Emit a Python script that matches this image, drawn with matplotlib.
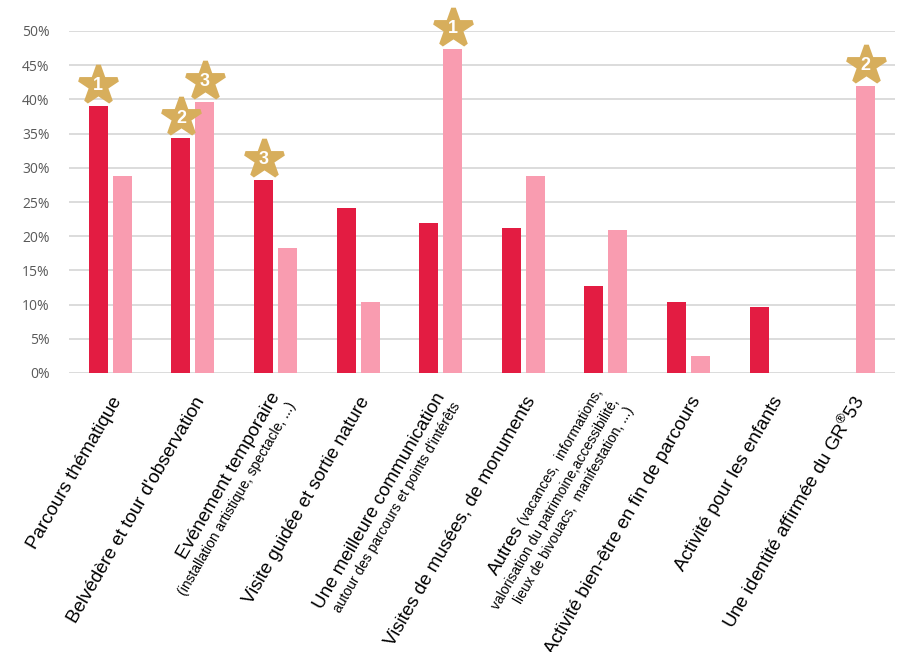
import math
import numpy as np
import matplotlib
matplotlib.use("Agg")
import matplotlib.pyplot as plt
from matplotlib.transforms import offset_copy

plt.rcParams['font.family'] = ['Liberation Sans', 'DejaVu Sans']
plt.rcParams['mathtext.fontset'] = 'custom'
plt.rcParams['mathtext.rm'] = 'Liberation Sans'
plt.rcParams['mathtext.it'] = 'Liberation Sans'
plt.rcParams['mathtext.bf'] = 'Liberation Sans:bold'

# ---- data ----
labels_main = ["Parcours thématique",
               "Belvédère et tour d'observation",
               "Evénement temporaire",
               "Visite guidée et sortie nature",
               "Une meilleure communication",
               "Visites de musées, de monuments",
               "Autres",
               "Activité bien-être en fin de parcours",
               "Activité pour les enfants",
               "Une identité affirmée du GR$^{®}$53"]
labels_first_small = ["", "", "", "", "", "", " (vacances,  informations,", "", "", ""]
labels_sub = ["", "",
              "(installation artistique, spectacle, ...)",
              "",
              "autour des parcours et points d'intérêts",
              "",
              "valorisation du patrimoine,accessibilité,\nlieux de bivouacs,  manifestation, ...)",
              "", "", ""]
serie_a = [39.0, 34.3, 28.2, 24.1, 22.0, 21.2, 12.7, 10.4, 9.7, 0.0]
serie_b = [28.8, 39.6, 18.3, 10.4, 47.4, 28.8, 20.9, 2.5, 0.0, 42.0]
star_a = [1, 2, 3, 0, 0, 0, 0, 0, 0, 0]
star_b = [0, 3, 0, 0, 1, 0, 0, 0, 0, 2]
yticks = list(range(0, 55, 5))

c_a = '#E31C42'
c_b = '#F99CB0'
c_star = '#D7AE5C'

W, H = 908, 652
fig = plt.figure(figsize=(W/100, H/100), dpi=100, facecolor='white')
ax = fig.add_axes((69/W, 1-373/H, (895-69)/W, (373-31)/H))

x = np.arange(len(labels_main))
bw, off = 0.23, 0.145
ax.bar(x-off, serie_a, bw, color=c_a, zorder=2)
ax.bar(x+off, serie_b, bw, color=c_b, zorder=2)

ax.set_xlim(-0.5, len(x)-0.5)
ax.set_ylim(0, 50)
ax.set_yticks(yticks)
ax.set_yticklabels([f"{v}%" for v in yticks], family='Open Sans')
ax.set_xticks([])
ax.grid(axis='y', color='#D9D9D9', lw=1.3, zorder=0)
ax.set_axisbelow(True)
for s in ax.spines.values():
    s.set_visible(False)
ax.tick_params(axis='y', length=0, pad=14, labelsize=10, colors='#595959')

# stars with rank numbers
star_tr = offset_copy(ax.transData, fig=fig, y=21, units='dots')
for xs, vals, ranks in ((x-off, serie_a, star_a), (x+off, serie_b, star_b)):
    for xi, v, r in zip(xs, vals, ranks):
        if not r:
            continue
        ax.plot(xi, v, marker='*', ms=29, color=c_star, mec=c_star, mew=3.5,
                transform=star_tr, clip_on=False, zorder=5)
        ax.text(xi, v - 0.1, str(r), transform=star_tr, ha='center', va='center',
                color='white', fontsize=13, fontweight='bold', zorder=6,
                clip_on=False)

# rotated category labels, right aligned, block centred on anchor
theta = 60
u = np.array([math.cos(math.radians(theta)), math.sin(math.radians(theta))])
n = np.array([-math.sin(math.radians(theta)), math.cos(math.radians(theta))])
renderer = fig.canvas.get_renderer()
big, small = 13.5, 10
px = 100/72

def seg_width(s, size):
    t = fig.text(0, 0, s, fontsize=size)
    w = t.get_window_extent(renderer).width
    t.remove()
    return w

for i in range(len(x)):
    lines = [[(labels_main[i], big)]]
    if labels_first_small[i]:
        lines[0].append((labels_first_small[i], small))
    if labels_sub[i]:
        for ln in labels_sub[i].split("\n"):
            lines.append([(ln, small)])
    heights = [max(sz for _, sz in ln)*px*1.22 for ln in lines]
    total = sum(heights)
    base = ax.transData.transform((i, 0)) + np.array([6, -24])
    top = total/2
    for ln, h in zip(lines, heights):
        cen = top - h/2
        top -= h
        lsize = max(sz for _, sz in ln)
        baseline = cen - 0.36*lsize*px
        along = 0.0
        for s, sz in reversed(ln):
            p = base + n*baseline - u*along
            fx, fy = fig.transFigure.inverted().transform(p)
            fig.text(fx, fy, s, fontsize=sz, rotation=theta,
                     rotation_mode='anchor', ha='right', va='baseline',
                     color='black')
            along += seg_width(s, sz)

fig.savefig("out.png", dpi=100, facecolor='white')
